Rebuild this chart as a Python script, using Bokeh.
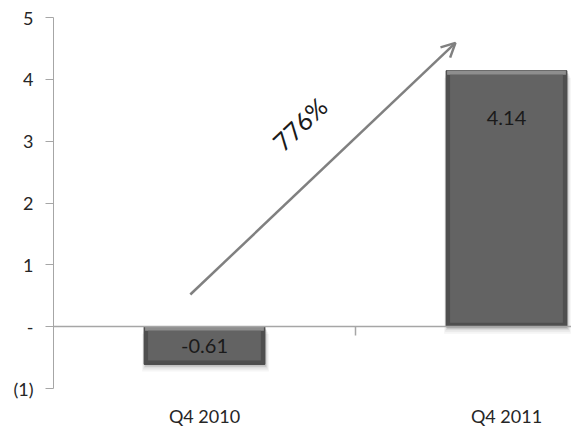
from bokeh.plotting import figure
from bokeh.models import (Range1d, LinearAxis, FixedTicker, Arrow, OpenHead,
                          Label, ColumnDataSource)
from bokeh.embed import file_html
from bokeh.resources import INLINE
import math

# Quarterly results
categories = ["Q4 2010", "Q4 2011"]
values = [-0.61, 4.14]
value_labels = ["-0.61", "4.14"]
growth_label = "776%"

y_ticks = [-1, 0, 1, 2, 3, 4, 5]
y_tick_labels = ["(1)", "-", "1", "2", "3", "4", "5"]

FONT = "Lato"
TEXT = "#262626"
AXIS = "#a6a6a6"

W, H = 571, 434
LEFT, TOP, BOTTOM = 53, 17, 46
px_x = 302.0           # pixels per category slot
x_end = (W - LEFT) / px_x
y_start, y_end = -1, 5
px_y = (H - TOP - BOTTOM) / (y_end - y_start)

centers = [i + 0.5 for i in range(len(categories))]
bar_w = 0.4

p = figure(width=W, height=H, output_backend="svg", toolbar_location=None,
           x_range=Range1d(0, x_end), y_range=Range1d(y_start, y_end),
           min_border_left=LEFT, min_border_top=TOP, min_border_bottom=BOTTOM,
           min_border_right=0, x_axis_location=None, y_axis_location=None)
p.outline_line_color = None
p.xgrid.visible = False
p.ygrid.visible = False
p.background_fill_color = "white"
p.border_fill_color = "white"

# y axis
yax = LinearAxis(ticker=FixedTicker(ticks=y_ticks),
                 major_label_overrides={t: l for t, l in zip(y_ticks, y_tick_labels)})
yax.axis_line_color = AXIS
yax.major_tick_line_color = AXIS
yax.major_tick_out = 8
yax.major_tick_in = 0
yax.minor_tick_line_color = None
yax.major_label_text_font = FONT
yax.major_label_text_font_size = "18px"
yax.major_label_text_color = TEXT
yax.major_label_standoff = 12
p.add_layout(yax, "left")

# zero line with category separators
zax = LinearAxis(fixed_location=0,
                 ticker=FixedTicker(ticks=[], minor_ticks=list(range(1, len(categories) + 1))))
zax.axis_line_color = AXIS
zax.axis_line_width = 1.5
zax.major_tick_line_color = None
zax.minor_tick_line_color = AXIS
zax.minor_tick_line_width = 1.5
zax.minor_tick_out = 9
zax.minor_tick_in = 0
zax.major_label_text_font_size = "0px"
p.add_layout(zax, "below")

# category labels at the bottom
cax = LinearAxis(ticker=FixedTicker(ticks=centers),
                 major_label_overrides={c: n for c, n in zip(centers, categories)})
cax.axis_line_color = None
cax.major_tick_line_color = None
cax.minor_tick_line_color = None
cax.major_label_text_font = FONT
cax.major_label_text_font_size = "18px"
cax.major_label_text_color = TEXT
cax.major_label_standoff = 10
p.add_layout(cax, "below")

# bars: soft shadow, bevel, face
bevel_x = 4 / px_x
bevel_y = 4 / px_y
tops = [max(v, 0) for v in values]
bottoms = [min(v, 0) for v in values]

src = ColumnDataSource(dict(
    x=centers, top=tops, bottom=bottoms,
    in_top=[t - bevel_y for t in tops], in_bottom=[b + bevel_y for b in bottoms],
    lab=value_labels,
))

# layered translucent rectangles give a blurred drop shadow
for off, grow, alpha in [(7, 6, 0.06), (5, 4, 0.08), (3, 2, 0.12), (2, 0, 0.15)]:
    dy = off / px_y
    p.vbar(x=[c + 1 / px_x for c in centers], top=[t - dy for t in tops],
           bottom=[b - dy for b in bottoms], width=bar_w + grow / px_x,
           fill_color="#555555", fill_alpha=alpha, line_color=None)

p.vbar(x="x", top="top", bottom="bottom", width=bar_w, source=src,
       fill_color="#4f4f4f", line_color="#474747", line_width=1)
p.vbar(x="x", top="top", bottom="in_top", width=bar_w - 2 / px_x, source=src,
       fill_color="#8e8e8e", line_color=None)
p.vbar(x="x", top="in_top", bottom="in_bottom", width=bar_w - 2 * bevel_x, source=src,
       fill_color="#636363", line_color=None)

# value labels: inside the bar near its top for positive, centred for negative
lab_y = []
for v in values:
    if v >= 0:
        lab_y.append(v - 47 / px_y)
    else:
        lab_y.append(v / 2)
src.data["lab_y"] = lab_y
p.text(x="x", y="lab_y", text="lab", source=src, text_align="center",
       text_baseline="middle", text_font={"value": FONT}, text_font_size="20px",
       text_color="#1a1a1a")

# growth arrow
ax0, ay0 = 0.453, 0.52
ax1, ay1 = 1.331, 4.59
p.add_layout(Arrow(x_start=ax0, y_start=ay0, x_end=ax1, y_end=ay1,
                   line_color="#808080", line_width=2.5,
                   end=OpenHead(size=14, line_color="#808080", line_width=2.5)))

ang = math.atan2((ay1 - ay0) * px_y, (ax1 - ax0) * px_x)
p.add_layout(Label(x=0.815, y=3.28, text=growth_label, angle=ang,
                   text_align="center", text_baseline="middle",
                   text_font=FONT, text_font_size="25px", text_color="#1a1a1a"))

open("out.html", "w").write(file_html(p, INLINE))
